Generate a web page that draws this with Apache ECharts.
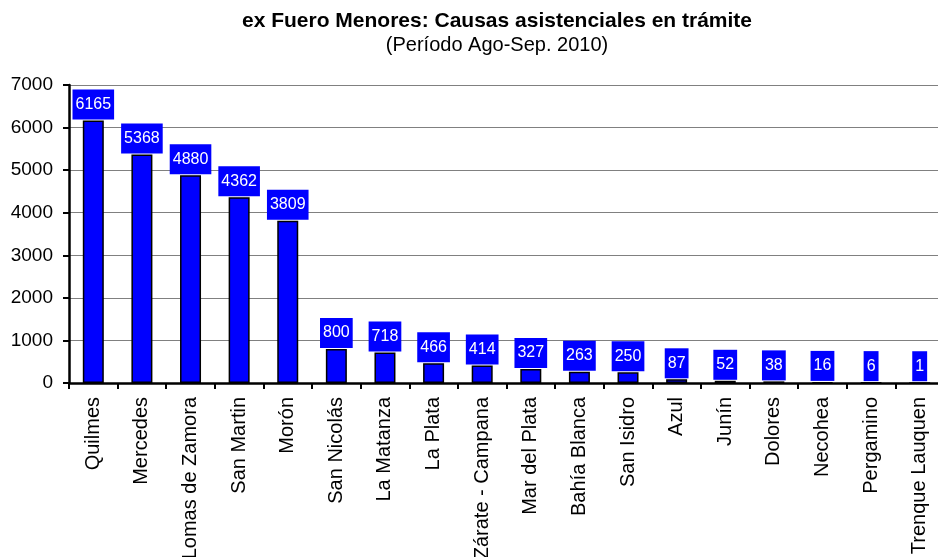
<!DOCTYPE html>
<html>
<head>
<meta charset="utf-8">
<script src="https://cdn.jsdelivr.net/npm/echarts@6/dist/echarts.min.js"></script>
<style>
  html, body { margin: 0; padding: 0; background: #fff; }
  #chart { width: 938px; height: 557px; }
</style>
</head>
<body>
<div id="chart"></div>
<script>
const departamentos = [
  'Quilmes', 'Mercedes', 'Lomas de Zamora', 'San Martin', 'Morón',
  'San Nicolás', 'La Matanza', 'La Plata', 'Zárate - Campana', 'Mar del Plata',
  'Bahía Blanca', 'San Isidro', 'Azul', 'Junín', 'Dolores',
  'Necohea', 'Pergamino', 'Trenque Lauquen'
]
const causas = [6165, 5368, 4880, 4362, 3809, 800, 718, 466, 414, 327, 263, 250, 87, 52, 38, 16, 6, 1]

const fuente = 'Liberation Sans, Arial, sans-serif'

const chart = echarts.init(document.getElementById('chart'))

const option = {
  animation: false,
  textStyle: { fontFamily: fuente },
  title: {
    text: 'ex Fuero Menores: Causas asistenciales en trámite',
    subtext: '(Período Ago-Sep. 2010)',
    left: 497,
    textAlign: 'center',
    top: 11,
    itemGap: 3,
    padding: 0,
    textStyle: { fontFamily: fuente, fontSize: 21, fontWeight: 'bold', color: '#000' },
    subtextStyle: { fontFamily: fuente, fontSize: 20, color: '#000' }
  },
  grid: { left: 69, right: -6, top: 85, bottom: 174, outerBoundsMode: 'none' },
  xAxis: {
    type: 'category',
    data: departamentos,
    axisLine: { lineStyle: { color: '#000', width: 2.5 } },
    axisTick: { show: true, length: 6, lineStyle: { color: '#000', width: 2 } },
    axisLabel: { rotate: 90, interval: 0, fontSize: 20, color: '#000', margin: 14 },
    splitLine: { show: false }
  },
  yAxis: {
    type: 'value',
    min: 0,
    max: 7000,
    interval: 1000,
    axisLine: { show: true, lineStyle: { color: '#000', width: 2.5 } },
    axisTick: { show: true, length: 6, lineStyle: { color: '#000', width: 2 } },
    axisLabel: { fontSize: 19, color: '#000', margin: 16, formatter: (v) => String(v) },
    splitLine: { lineStyle: { color: '#808080', width: 1 } }
  },
  series: [{
    type: 'bar',
    data: causas,
    barWidth: 21,
    itemStyle: { color: '#0000ff', borderColor: '#000', borderWidth: 1.5 },
    label: {
      show: true,
      position: 'top',
      distance: 1,
      color: '#fff',
      fontSize: 16,
      backgroundColor: '#0000ff',
      padding: [7, 3, 7, 3]
    }
  }]
}

chart.setOption(option)
</script>
</body>
</html>
